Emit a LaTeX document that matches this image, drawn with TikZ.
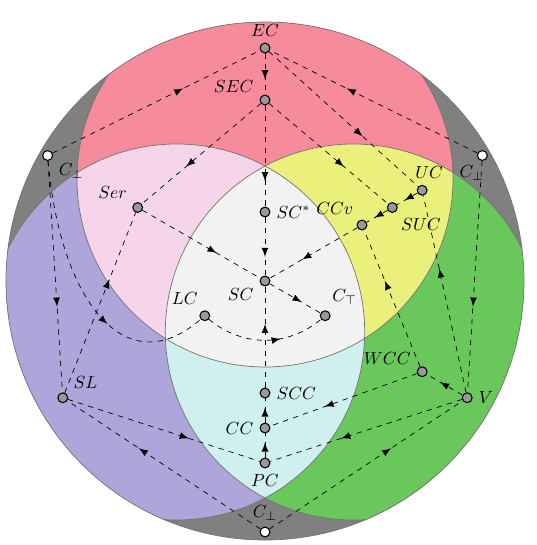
\documentclass[tikz,border=0pt]{standalone}
\usetikzlibrary{arrows,decorations.markings}
\definecolor{regred}{RGB}{245,139,155}
\definecolor{regpurple}{RGB}{174,165,218}
\definecolor{reggreen}{RGB}{106,199,92}
\definecolor{regpink}{RGB}{246,213,235}
\definecolor{regyellow}{RGB}{235,240,124}
\definecolor{regcyan}{RGB}{208,239,239}
\definecolor{regcenter}{RGB}{242,242,242}
\definecolor{reggray}{RGB}{128,128,128}
\tikzset{
  cons/.style={circle,draw,semithick,fill=black!40,minimum size=5.6pt,inner sep=0pt},
  bot/.style={cons,fill=white},
  imp/.style={dashed,postaction={decorate},
    decoration={markings,mark=at position #1 with {\arrow[scale=1.3]{latex}}}},
  imp/.default=0.63,
}

\begin{document}
\begin{tikzpicture}
  \useasboundingbox (-5.3,-5.28) rectangle (5.44,5.62);
  % regions
  \begin{scope}
    \clip (0,0) circle (5.18);
    \fill[reggray] (0,0) circle (5.18);
    \fill[regred] (90:2.04) circle (3.76);
    \fill[regpurple] (210:2.04) circle (3.76);
    \fill[reggreen] (330:2.04) circle (3.76);
    \begin{scope}
      \clip (210:2.04) circle (3.76);
      \fill[regcyan] (330:2.04) circle (3.76);
    \end{scope}
    \begin{scope}
      \clip (90:2.04) circle (3.76);
      \fill[regpink] (210:2.04) circle (3.76);
      \fill[regyellow] (330:2.04) circle (3.76);
      \clip (210:2.04) circle (3.76);
      \fill[regcenter] (330:2.04) circle (3.76);
    \end{scope}
    \draw[black!55] (90:2.04) circle (3.76);
    \draw[black!55] (210:2.04) circle (3.76);
    \draw[black!55] (330:2.04) circle (3.76);
  \end{scope}
  \draw[black!55] (0,0) circle (5.18);

  % nodes
  \node[cons,label=above:$EC$] (EC) at (90:4.66) {};
  \node[cons,label=165:$SEC$] (SEC) at (90:3.62) {};
  \node[cons,label=right:$SC^*$] (SCs) at (90:1.38) {};
  \node[cons,label=-165:$SC$] (SC) at (0,0) {};
  \node[cons,label=100:$LC$] (LC) at (210:1.39) {};
  \node[cons,label=80:$C_\top$] (Ctop) at (330:1.39) {};
  \node[cons,label=150:$Ser$] (Ser) at (150:2.94) {};
  \node[cons,label=120:$CCv$] (CCv) at (30:2.24) {};
  \node[cons,label=-60:$SUC$] (SUC) at (30:2.94) {};
  \node[cons,label={[xshift=4pt]above:$UC$}] (UC) at (30:3.63) {};
  \node[cons,label=170:$WCC$] (WCC) at (330:3.63) {};
  \node[cons,label=right:$V$] (V) at (330:4.67) {};
  \node[cons,label=30:$SL$] (SL) at (210:4.67) {};
  \node[cons,label=right:$SCC$] (SCC) at (270:2.24) {};
  \node[cons,label=left:$CC$] (CC) at (270:2.94) {};
  \node[cons,label=below:$PC$] (PC) at (270:3.64) {};
  \node[bot,label=-20:$C_\bot$] (Cl) at (150:5.02) {};
  \node[bot,label={[xshift=-6pt,yshift=1pt]below:$C_\bot$}] (Cr) at (30:5.02) {};
  \node[bot,label=above:$C_\bot$] (Cb) at (270:5.02) {};

  % edges
  \draw[imp] (EC) -- (SEC);
  \draw[imp=0.75] (SEC) -- (SCs);
  \draw[imp=0.68] (SCs) -- (SC);
  \draw[imp] (Cl) -- (EC);
  \draw[imp] (Cr) -- (EC);
  \draw[imp] (EC) -- (UC);
  \draw[imp] (SEC) -- (SUC);
  \draw[imp] (SEC) -- (Ser);
  \draw[imp] (Ser) -- (SC);
  \draw[imp] (CCv) -- (SC);
  \draw[imp] (SC) -- (Ctop);
  \draw[imp] (LC) to[bend right=40] (Ctop);
  \draw[imp] (Cl) .. controls (-4.1,-0.38) and (-2.8,-2.08) .. (LC);
  \draw[imp] (Cl) -- (SL);
  \draw[imp] (SL) -- (Ser);
  \draw[imp] (SCC) -- (SC);
  \draw[imp] (CC) -- (SCC);
  \draw[imp] (PC) -- (CC);
  \draw[imp] (SL) -- (PC);
  \draw[imp] (V) -- (PC);
  \draw[imp] (WCC) -- (CC);
  \draw[imp] (V) -- (WCC);
  \draw[imp] (WCC) -- (CCv);
  \draw[imp] (V) -- (UC);
  \draw[imp] (Cr) -- (V);
  \draw[imp] (Cb) -- (SL);
  \draw[imp] (Cb) -- (V);
  \draw[imp] (UC) -- (SUC);
  \draw[imp] (SUC) -- (CCv);
\end{tikzpicture}
\end{document}
